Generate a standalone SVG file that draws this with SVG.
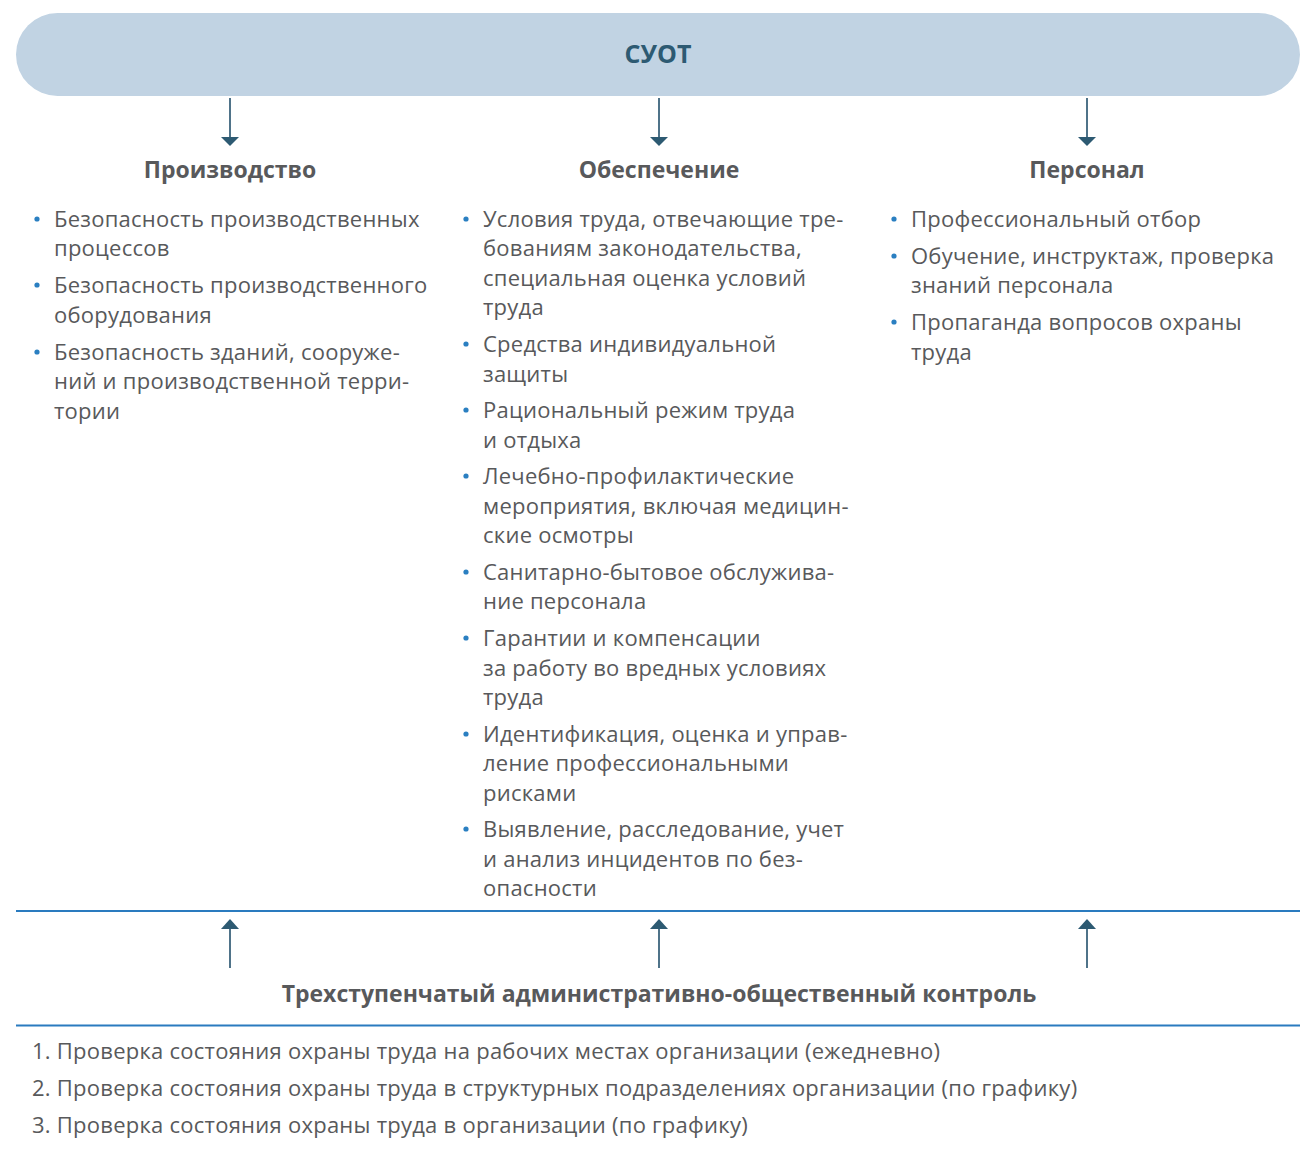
<svg xmlns="http://www.w3.org/2000/svg" width="1300" height="1151" viewBox="0 0 1300 1151">
<defs>
<style>
.h{font-family:"Open Sans","Noto Sans",sans-serif;font-weight:700;font-size:23px;fill:#58595b;text-anchor:middle}
.t{font-family:"Open Sans","Noto Sans",sans-serif;font-size:22px;letter-spacing:0.25px;fill:#58595b}
.l{font-family:"Open Sans","Noto Sans",sans-serif;font-size:22px;letter-spacing:0.25px;fill:#58595b}
.b{fill:#2a7fc1}
.arr{stroke:#4f7389;stroke-width:2;fill:none}
.ah{fill:#2d5a72}
.rule{stroke:#2a7bbf;stroke-width:2}
</style>
</defs>
<g id="suot">
<rect x="16" y="13" width="1284" height="83" rx="41.5" fill="#c1d3e3"/>
<text x="658" y="63" style="font-family:'Open Sans','Noto Sans',sans-serif;font-weight:700;font-size:25px;fill:#2d5a72;text-anchor:middle">СУОТ</text>
</g>
<g id="connectors">
<line class="arr" x1="230" y1="98" x2="230" y2="138"/>
<polygon class="ah" points="221,137 239,137 230,146"/>
<line class="arr" x1="659" y1="98" x2="659" y2="138"/>
<polygon class="ah" points="650,137 668,137 659,146"/>
<line class="arr" x1="1087" y1="98" x2="1087" y2="138"/>
<polygon class="ah" points="1078,137 1096,137 1087,146"/>
<line class="arr" x1="230" y1="928" x2="230" y2="968"/>
<polygon class="ah" points="221,929 239,929 230,919"/>
<line class="arr" x1="659" y1="928" x2="659" y2="968"/>
<polygon class="ah" points="650,929 668,929 659,919"/>
<line class="arr" x1="1087" y1="928" x2="1087" y2="968"/>
<polygon class="ah" points="1078,929 1096,929 1087,919"/>
</g>
<g id="proizvodstvo">
<text class="h" x="230" y="178">Производство</text>
<circle class="b" cx="37" cy="219" r="2.6"/>
<text class="t" x="54" y="227">Безопасность производственных</text>
<text class="t" x="54" y="256">процессов</text>
<circle class="b" cx="37" cy="285" r="2.6"/>
<text class="t" x="54" y="293">Безопасность производственного</text>
<text class="t" x="54" y="323">оборудования</text>
<circle class="b" cx="37" cy="352" r="2.6"/>
<text class="t" x="54" y="360">Безопасность зданий, сооруже-</text>
<text class="t" x="54" y="389">ний и производственной терри-</text>
<text class="t" x="54" y="419">тории</text>
</g>
<g id="obespechenie">
<text class="h" x="659" y="178">Обеспечение</text>
<circle class="b" cx="466" cy="219" r="2.6"/>
<text class="t" x="483" y="227">Условия труда, отвечающие тре-</text>
<text class="t" x="483" y="256">бованиям законодательства,</text>
<text class="t" x="483" y="286">специальная оценка условий</text>
<text class="t" x="483" y="315">труда</text>
<circle class="b" cx="466" cy="344" r="2.6"/>
<text class="t" x="483" y="352">Средства индивидуальной</text>
<text class="t" x="483" y="382">защиты</text>
<circle class="b" cx="466" cy="410" r="2.6"/>
<text class="t" x="483" y="418">Рациональный режим труда</text>
<text class="t" x="483" y="448">и отдыха</text>
<circle class="b" cx="466" cy="476" r="2.6"/>
<text class="t" x="483" y="484">Лечебно-профилактические</text>
<text class="t" x="483" y="514">мероприятия, включая медицин-</text>
<text class="t" x="483" y="543">ские осмотры</text>
<circle class="b" cx="466" cy="572" r="2.6"/>
<text class="t" x="483" y="580">Санитарно-бытовое обслужива-</text>
<text class="t" x="483" y="609">ние персонала</text>
<circle class="b" cx="466" cy="638" r="2.6"/>
<text class="t" x="483" y="646">Гарантии и компенсации</text>
<text class="t" x="483" y="676">за работу во вредных условиях</text>
<text class="t" x="483" y="705">труда</text>
<circle class="b" cx="466" cy="734" r="2.6"/>
<text class="t" x="483" y="742">Идентификация, оценка и управ-</text>
<text class="t" x="483" y="771">ление профессиональными</text>
<text class="t" x="483" y="801">рисками</text>
<circle class="b" cx="466" cy="829" r="2.6"/>
<text class="t" x="483" y="837">Выявление, расследование, учет</text>
<text class="t" x="483" y="867">и анализ инцидентов по без-</text>
<text class="t" x="483" y="896">опасности</text>
</g>
<g id="personal">
<text class="h" x="1087" y="178">Персонал</text>
<circle class="b" cx="894" cy="219" r="2.6"/>
<text class="t" x="911" y="227">Профессиональный отбор</text>
<circle class="b" cx="894" cy="256" r="2.6"/>
<text class="t" x="911" y="264">Обучение, инструктаж, проверка</text>
<text class="t" x="911" y="293">знаний персонала</text>
<circle class="b" cx="894" cy="322" r="2.6"/>
<text class="t" x="911" y="330">Пропаганда вопросов охраны</text>
<text class="t" x="911" y="360">труда</text>
</g>
<g id="kontrol">
<line class="rule" x1="16" y1="911" x2="1300" y2="911"/>
<text class="h" x="659" y="1002">Трехступенчатый административно-общественный контроль</text>
<line class="rule" x1="16" y1="1025.5" x2="1300" y2="1025.5"/>
<text class="l" x="32" y="1059">1. Проверка состояния охраны труда на рабочих местах организации (ежедневно)</text>
<text class="l" x="32" y="1096">2. Проверка состояния охраны труда в структурных подразделениях организации (по графику)</text>
<text class="l" x="32" y="1133">3. Проверка состояния охраны труда в организации (по графику)</text>
</g>
</svg>
